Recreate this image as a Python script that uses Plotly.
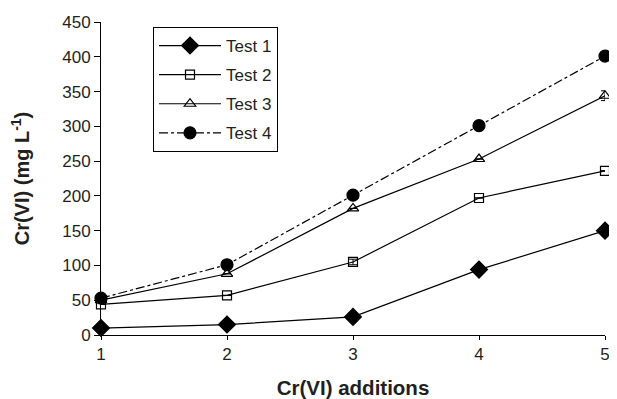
import plotly.graph_objects as go

additions = [1, 2, 3, 4, 5]
test1 = [10, 15, 26, 94, 150]
test2 = [44, 57, 105, 197, 236]
test3 = [50, 88, 182, 253, 344]
test4 = [53, 101, 201, 301, 401]
err1 = [0, 0, 0, 6, 0]
err2 = [0, 0, 4, 0, 0]
err3 = [0, 0, 0, 0, 7]
err4 = [0, 0, 0, 0, 0]

series = [
    ("Test 1", test1, err1, "diamond", 13, "black", "solid"),
    ("Test 2", test2, err2, "square-open", 9, "black", "solid"),
    ("Test 3", test3, err3, "triangle-up-open", 10, "black", "solid"),
    ("Test 4", test4, err4, "circle", 12, "black", "dashdot"),
]

# page has an 8px body margin; compensate so the plot lands where the reference has it
W, H = 609, 391
ML, MR, MT, MB = 93, 12, 14, 64
pw = W - ML - MR
ph = H - MT - MB

fig = go.Figure()
for i, (name, ys, es, sym, size, col, dash) in enumerate(series):
    fig.add_trace(go.Scatter(
        x=additions, y=ys, name=name, mode="lines+markers",
        legendgroup="g%d" % i,
        line=dict(color="black", width=1.2, dash=dash),
        marker=dict(symbol=sym, size=size, color=col, line=dict(color="black", width=1.2)),
        error_y=dict(type="data", array=es, visible=True, color="black", thickness=1, width=4),
        cliponaxis=False,
    ))

font_family = "Liberation Sans, Arial, sans-serif"
txt = "#231f20"
fig.update_layout(
    width=W, height=H,
    margin=dict(l=ML, r=MR, t=MT, b=MB, autoexpand=False),
    paper_bgcolor="white", plot_bgcolor="white",
    font=dict(family=font_family, size=17, color=txt),
    showlegend=True,
    legend=dict(
        x=(145 - ML) / pw, y=1 - (19 - MT) / ph, xanchor="left", yanchor="top",
        bordercolor="black", borderwidth=1, bgcolor="white",
        font=dict(size=17, color=txt),
        itemwidth=62, tracegroupgap=4,
    ),
)

fig.update_xaxes(
    range=[1, 5], tickvals=additions, ticktext=[str(a) for a in additions],
    automargin=False,
    showline=True, linecolor="black", linewidth=1, ticks="outside", ticklen=4,
    tickcolor="black", showgrid=False, zeroline=False,
    tickfont=dict(size=17, color=txt),
    title=dict(text="<b>Cr(VI) additions</b>", font=dict(size=20.5, color=txt), standoff=18),
)
fig.update_yaxes(
    range=[0, 450], tickvals=list(range(0, 451, 50)),
    automargin=False,
    showline=True, linecolor="black", linewidth=1, ticks="outside", ticklen=6,
    tickcolor="black", showgrid=False, zeroline=False,
    tickfont=dict(size=17, color=txt),
    title=dict(text="<b>Cr(VI) (mg L<sup>-1</sup>)</b>", font=dict(size=20, color=txt), standoff=28),
)

fig.write_html("out.html")
